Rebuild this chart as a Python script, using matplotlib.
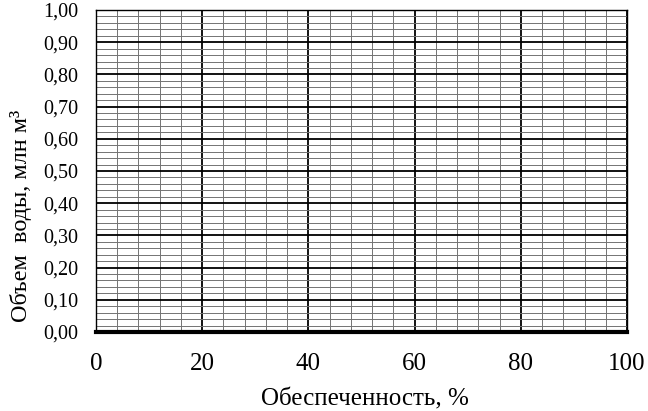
import numpy as np
import matplotlib.pyplot as plt
from matplotlib import rcParams
from matplotlib.ticker import MultipleLocator, FixedLocator

rcParams['font.family'] = ['Liberation Serif', 'DejaVu Serif']

# axis setup
x_ticks = [0, 20, 40, 60, 80, 100]
y_ticks = [0.0, 0.1, 0.2, 0.3, 0.4, 0.5, 0.6, 0.7, 0.8, 0.9, 1.0]
y_tick_labels = [f'{v:.2f}'.replace('.', ',') for v in y_ticks]
x_minor_step = 4
y_minor_step = 0.02

fig = plt.figure(figsize=(6.48, 4.11), dpi=100)
ax = fig.add_axes([96 / 648, 1 - 332 / 411, 531 / 648, 322 / 411])

ax.set_xlim(0, 100)
ax.set_ylim(0, 1.0)
ax.xaxis.set_major_locator(FixedLocator(x_ticks))
ax.yaxis.set_major_locator(FixedLocator(y_ticks))
ax.set_yticklabels(y_tick_labels)
ax.xaxis.set_minor_locator(MultipleLocator(x_minor_step))
ax.yaxis.set_minor_locator(MultipleLocator(y_minor_step))

# blank nomogram grid: thin grey minor cells, black major lines
ax.grid(which='minor', color='0.45', lw=0.7)
ax.grid(which='major', color='black', lw=1.3)
ax.set_axisbelow(True)

ax.tick_params(which='both', length=0)
ax.tick_params(axis='x', labelsize=18, pad=15)
ax.tick_params(axis='y', labelsize=14.5, pad=13)

for side in ['top', 'right', 'left']:
    ax.spines[side].set_linewidth(1.0)
ax.spines['bottom'].set_linewidth(3.0)

ax.set_xlabel('Обеспеченность, %', fontsize=18)
ax.xaxis.label.set_va('center')
ax.xaxis.set_label_coords(0.507, -0.21)
ax.set_ylabel('Объем  воды, млн м³', fontsize=17.5)
ax.yaxis.label.set_va('center')
ax.yaxis.set_label_coords(-0.141, 0.36)

fig.savefig('out.png', dpi=100)
